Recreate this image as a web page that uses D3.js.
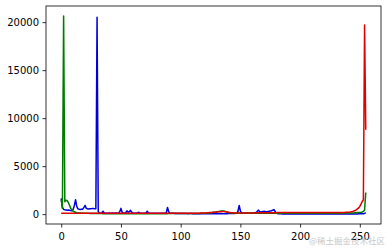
<!DOCTYPE html>
<html>
<head>
<meta charset="utf-8">
<script src="https://cdn.jsdelivr.net/npm/d3@7"></script>
<style>
  body { margin: 0; background: #fff; }
  svg { display: block; }
  .tick text { font-family: "DejaVu Sans", sans-serif; font-size: 10px; fill: #000; }
  .tick line { stroke: #000; stroke-width: 0.8; }
</style>
</head>
<body>
<div id="chart"></div>
<script>
// histogram counts per channel, 256 bins each
const blueHist = [
  1650,700,500,450,420,400,420,400,380,350,500,900,1500,800,550,500,
  480,500,520,700,900,600,550,530,560,550,600,580,550,560,20500,250,
  120,100,150,300,120,90,100,80,120,100,90,110,100,90,130,100,
  120,250,600,200,110,100,150,350,200,250,400,200,120,100,90,110,
  150,200,100,90,80,100,90,120,300,120,90,80,100,80,90,100,
  80,90,100,80,90,100,80,90,150,700,250,100,80,90,80,70,
  80,70,60,70,80,60,70,60,70,60,50,60,70,60,50,60,
  50,60,50,40,50,60,50,40,50,40,50,40,50,60,50,40,
  50,40,60,50,40,50,60,50,40,50,60,50,60,70,60,80,
  70,60,80,100,300,900,350,120,100,90,80,100,90,80,100,120,
  100,110,130,180,250,420,300,220,250,280,300,260,250,280,300,330,
  350,400,480,300,120,60,40,30,30,20,20,20,15,15,10,10,
  10,10,8,8,8,6,6,6,5,5,5,5,5,5,5,5,
  5,5,5,5,5,5,5,5,5,5,5,5,5,5,5,5,
  5,5,5,5,5,5,5,5,5,5,5,5,6,6,8,8,
  10,10,12,12,15,15,20,20,25,30,30,35,40,50,70,150
];
const greenHist = [
  1500,600,20650,1300,1450,1400,1200,900,600,450,300,250,200,150,130,120,
  110,100,100,90,90,80,80,80,70,70,70,60,60,60,60,60,
  60,55,55,50,50,50,50,50,45,45,45,45,45,45,45,45,
  45,45,45,45,45,45,45,45,45,45,45,45,45,45,45,45,
  45,45,45,45,45,45,50,50,50,50,50,50,50,50,50,50,
  50,50,50,50,50,50,50,50,50,50,55,55,55,55,55,55,
  55,55,55,55,60,60,60,60,60,60,60,60,65,65,65,65,
  70,70,70,75,75,80,80,85,90,95,100,110,120,130,150,170,
  190,210,240,260,280,300,320,330,320,300,260,220,180,150,130,120,
  110,100,100,95,95,90,90,90,90,90,90,90,90,90,90,90,
  90,90,90,90,90,90,90,90,90,90,90,90,90,90,90,90,
  95,95,95,95,100,100,100,100,100,100,100,100,100,100,100,100,
  100,100,100,100,100,100,100,100,100,100,100,100,100,100,100,100,
  100,100,100,100,100,100,100,100,100,100,100,100,100,100,100,100,
  100,100,100,100,100,100,100,100,100,100,100,100,105,105,110,110,
  110,115,115,120,125,130,140,150,160,170,180,200,230,280,420,2250
];
const redHist = [
  90,90,85,85,85,85,85,85,85,85,85,85,85,85,85,85,
  85,85,85,85,85,85,85,85,85,85,85,85,85,85,85,85,
  85,85,85,85,85,85,85,85,85,85,85,85,85,85,85,85,
  85,85,85,85,85,85,85,85,85,85,85,85,90,90,90,90,
  90,90,90,90,90,90,90,90,90,90,90,90,90,90,90,90,
  90,90,90,90,90,90,90,90,95,95,95,95,95,95,95,95,
  95,95,95,95,95,95,95,95,100,100,100,100,100,100,100,100,
  100,100,105,105,110,110,115,120,125,130,140,150,160,170,180,190,
  200,210,220,230,240,250,260,270,270,260,240,220,200,180,160,150,
  140,130,125,120,120,120,120,120,120,120,120,120,125,125,125,125,
  130,130,130,130,135,135,135,135,140,140,140,140,145,145,145,145,
  150,150,150,155,155,160,160,160,165,165,165,170,170,170,170,170,
  170,170,170,170,175,175,175,175,175,175,175,175,175,175,175,175,
  175,175,175,175,175,175,175,175,175,175,175,175,175,175,175,175,
  170,170,170,165,165,165,160,160,160,160,165,170,175,180,185,190,
  200,210,230,250,280,320,380,450,550,650,800,1050,1300,1500,19700,8800
];
const xTicks = [0, 50, 100, 150, 200, 250];
const yTicks = [0, 5000, 10000, 15000, 20000];
const channels = [
  { name: "b", values: blueHist, color: "#0000dd" },
  { name: "g", values: greenHist, color: "#007a00" },
  { name: "r", values: redHist, color: "#e00000" }
];

const width = 388, height = 248;
const margin = { left: 46, right: 7, top: 6, bottom: 24 };

const svg = d3.select("#chart").append("svg")
    .attr("width", width)
    .attr("height", height);

// matplotlib style 5% margins
const nBins = blueHist.length;
const xPad = (nBins - 1) * 0.05;
const allVals = channels.flatMap(c => c.values);
const [yMin, yMax] = d3.extent(allVals);
const yPad = (yMax - yMin) * 0.05;

const x = d3.scaleLinear()
    .domain([0 - xPad, nBins - 1 + xPad])
    .range([margin.left, width - margin.right]);
const y = d3.scaleLinear()
    .domain([yMin - yPad, yMax + yPad])
    .range([height - margin.bottom, margin.top]);

const line = d3.line()
    .x((d, i) => x(i))
    .y(d => y(d));

const plot = svg.append("g");
plot.append("clipPath").attr("id", "clip")
  .append("rect")
    .attr("x", margin.left).attr("y", margin.top)
    .attr("width", width - margin.left - margin.right)
    .attr("height", height - margin.top - margin.bottom);

plot.selectAll(".hist")
    .data(channels)
    .join("path")
    .attr("class", "hist")
    .attr("clip-path", "url(#clip)")
    .attr("fill", "none")
    .attr("stroke", d => d.color)
    .attr("stroke-width", 1.5)
    .attr("stroke-linejoin", "round")
    .attr("d", d => line(d.values));

// axes
const xAxis = svg.append("g")
    .attr("transform", `translate(0,${height - margin.bottom})`)
    .call(d3.axisBottom(x).tickValues(xTicks).tickSize(3.5).tickPadding(5));
xAxis.select(".domain").remove();

const yAxis = svg.append("g")
    .attr("transform", `translate(${margin.left},0)`)
    .call(d3.axisLeft(y).tickValues(yTicks).tickFormat(d3.format("d")).tickSize(3.5).tickPadding(3.5));
yAxis.select(".domain").remove();

// frame
svg.append("rect")
    .attr("x", margin.left)
    .attr("y", margin.top)
    .attr("width", width - margin.left - margin.right)
    .attr("height", height - margin.top - margin.bottom)
    .attr("fill", "none")
    .attr("stroke", "#000")
    .attr("stroke-width", 0.8);

// watermark (overlaps the 250 label in the original too)
svg.append("text")
    .attr("x", width - 3)
    .attr("y", height - 4)
    .attr("text-anchor", "end")
    .style("font-family", "'Noto Sans CJK SC', sans-serif")
    .style("font-size", "8.5px")
    .style("fill", "#bbb")
    .style("opacity", 0.8)
    .text("@稀土掘金技术社区");
</script>
</body>
</html>
